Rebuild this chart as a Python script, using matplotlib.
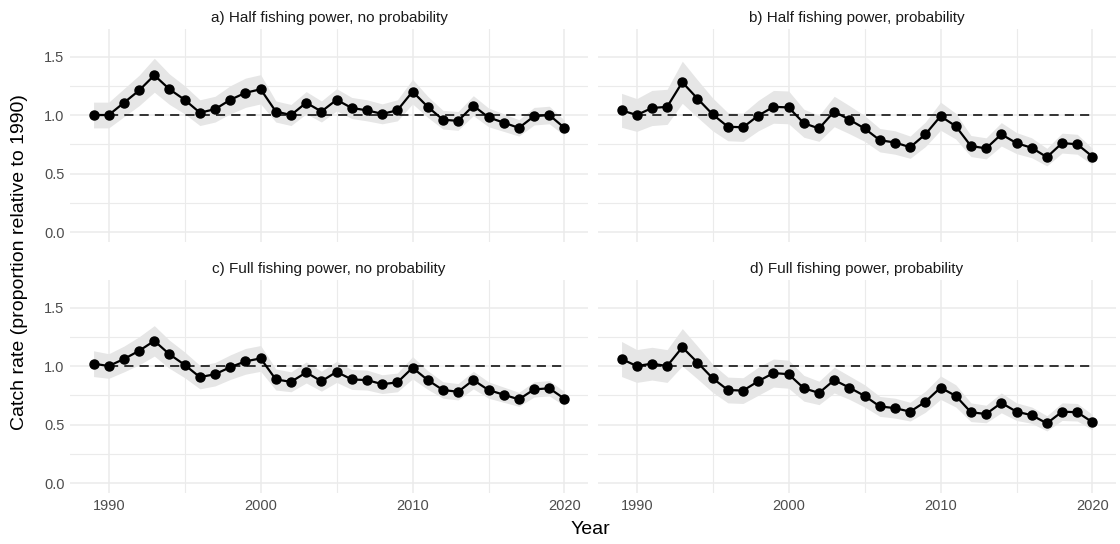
import matplotlib
matplotlib.use("Agg")
import matplotlib.pyplot as plt
from matplotlib.ticker import MultipleLocator

plt.rcParams['font.family'] = ['Liberation Sans', 'DejaVu Sans']

years = list(range(1989, 2021))

titles = ["a) Half fishing power, no probability",
          "b) Half fishing power, probability",
          "c) Full fishing power, no probability",
          "d) Full fishing power, probability"]

rate_a = [1.00, 1.00, 1.105, 1.21, 1.34, 1.22, 1.13, 1.02, 1.05, 1.13, 1.19, 1.22,
          1.03, 1.00, 1.105, 1.03, 1.13, 1.06, 1.04, 1.01, 1.04, 1.20, 1.07, 0.96,
          0.95, 1.08, 0.98, 0.935, 0.89, 0.99, 1.00, 0.89]
rate_b = [1.04, 1.00, 1.06, 1.07, 1.28, 1.14, 1.005, 0.90, 0.895, 0.995, 1.07, 1.065,
          0.93, 0.885, 1.03, 0.96, 0.885, 0.785, 0.765, 0.725, 0.835, 0.99, 0.905, 0.735,
          0.715, 0.835, 0.76, 0.72, 0.64, 0.76, 0.75, 0.645]
rate_c = [1.02, 1.00, 1.06, 1.13, 1.215, 1.10, 1.01, 0.905, 0.93, 0.99, 1.04, 1.065,
          0.885, 0.865, 0.945, 0.87, 0.95, 0.885, 0.88, 0.845, 0.86, 0.985, 0.88, 0.795,
          0.78, 0.88, 0.795, 0.755, 0.715, 0.80, 0.81, 0.72]
rate_d = [1.06, 1.00, 1.02, 1.00, 1.16, 1.03, 0.895, 0.795, 0.79, 0.87, 0.94, 0.93,
          0.81, 0.77, 0.88, 0.815, 0.745, 0.655, 0.64, 0.61, 0.695, 0.815, 0.745, 0.605,
          0.59, 0.685, 0.61, 0.58, 0.51, 0.61, 0.605, 0.52]

half_a = [0.11, 0.11, 0.12, 0.13, 0.145, 0.13, 0.12, 0.11, 0.11, 0.12, 0.125, 0.125,
          0.09, 0.09, 0.095, 0.09, 0.095, 0.09, 0.09, 0.085, 0.09, 0.105, 0.09, 0.08,
          0.08, 0.085, 0.08, 0.075, 0.07, 0.075, 0.075, 0.065]
half_b = [0.145, 0.14, 0.15, 0.15, 0.18, 0.16, 0.14, 0.12, 0.12, 0.13, 0.14, 0.14,
          0.12, 0.11, 0.13, 0.12, 0.11, 0.10, 0.10, 0.095, 0.105, 0.12, 0.11, 0.09,
          0.09, 0.10, 0.09, 0.085, 0.075, 0.085, 0.085, 0.07]
half_c = [0.11, 0.105, 0.11, 0.12, 0.13, 0.12, 0.11, 0.10, 0.10, 0.105, 0.11, 0.11,
          0.09, 0.085, 0.09, 0.085, 0.09, 0.085, 0.085, 0.08, 0.08, 0.095, 0.08, 0.07,
          0.07, 0.075, 0.07, 0.065, 0.06, 0.065, 0.065, 0.06]
half_d = [0.15, 0.14, 0.14, 0.14, 0.16, 0.14, 0.12, 0.11, 0.11, 0.12, 0.12, 0.12,
          0.11, 0.10, 0.11, 0.10, 0.095, 0.085, 0.085, 0.08, 0.09, 0.10, 0.095, 0.08,
          0.075, 0.085, 0.075, 0.07, 0.065, 0.075, 0.075, 0.065]

rates = [rate_a, rate_b, rate_c, rate_d]
halves = [half_a, half_b, half_c, half_d]

ref_years = [1990, 2020]
ref_level = 1.0

xticks = [1990, 2000, 2010, 2020]
yticks = [0.0, 0.5, 1.0, 1.5]

W, H = 1120, 544
fig = plt.figure(figsize=(W / 100, H / 100), dpi=100)
fig.patch.set_facecolor('white')

lefts = [70, 598]
width = 518
tops = [29, 280]
height = 213

grid_col = '#EBEBEB'
txt_col = '#4D4D4D'

axes = []
for i in range(4):
    r, c = divmod(i, 2)
    x0 = lefts[c] / W
    y0 = 1 - (tops[r] + height) / H
    ax = fig.add_axes([x0, y0, width / W, height / H])
    axes.append(ax)
    y = rates[i]
    hw = halves[i]
    lo = [v - h for v, h in zip(y, hw)]
    hi = [v + h for v, h in zip(y, hw)]
    ax.fill_between(years, lo, hi, color='#E6E6E6', lw=0, zorder=1)
    ax.plot(ref_years, [ref_level, ref_level], color='black', lw=1.1,
            ls=(0, (6, 4)), zorder=2)
    ax.plot(years, y, color='black', lw=1.6, marker='o', ms=6.5, zorder=3)
    ax.set_xlim(1987.45, 2021.55)
    ax.set_ylim(-0.085, 1.735)
    ax.set_xticks(xticks)
    ax.xaxis.set_minor_locator(MultipleLocator(5))
    ax.set_yticks(yticks)
    ax.yaxis.set_minor_locator(MultipleLocator(0.25))
    ax.grid(True, which='major', color=grid_col, lw=1.1, zorder=0)
    ax.grid(True, which='minor', color=grid_col, lw=0.8, zorder=0)
    ax.set_axisbelow(True)
    for s in ax.spines.values():
        s.set_visible(False)
    ax.tick_params(which='both', length=0, colors=txt_col, labelsize=10.5, pad=4)
    if c == 1:
        ax.tick_params(labelleft=False)
    else:
        ax.set_yticklabels(['0.0', '0.5', '1.0', '1.5'])
    if r == 0:
        ax.tick_params(labelbottom=False)
    ax.set_title(titles[i], fontsize=11, color='#1A1A1A', pad=5)

fig.text(590 / W, 1 - 530 / H, 'Year', ha='center', va='center', fontsize=14)
fig.text(20 / W, 1 - 262 / H, 'Catch rate (proportion relative to 1990)',
         ha='center', va='center', rotation=90, fontsize=14)

fig.savefig('out.png', dpi=100, facecolor='white')
